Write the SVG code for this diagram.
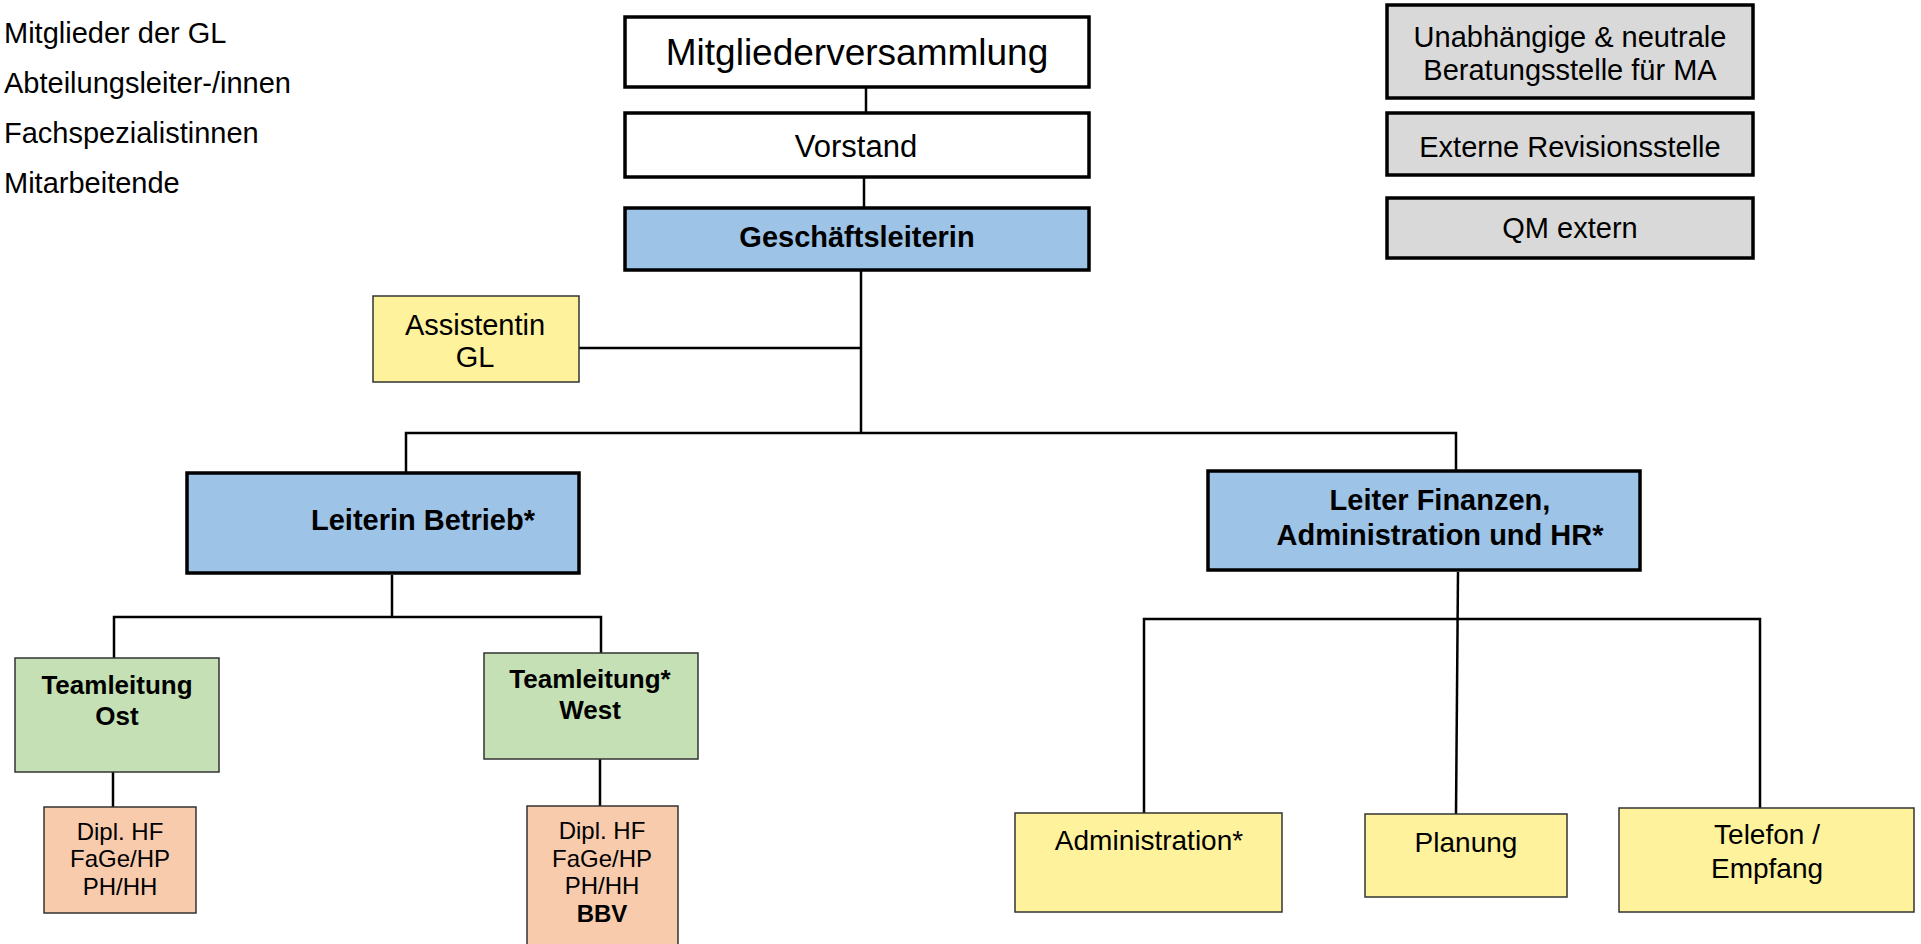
<svg xmlns="http://www.w3.org/2000/svg" width="1921" height="944" viewBox="0 0 1921 944">
<style>
text{font-family:"Liberation Sans",Arial,sans-serif;fill:#000;text-anchor:middle}
.lg{text-anchor:start;font-size:29px}
.thick{stroke:#000;stroke-width:3.5}
.thin{stroke:#333;stroke-width:1.5}
.w{fill:#fff}.b{fill:#9DC3E6}.g{fill:#C5E0B4}.y{fill:#FFF29C}.p{fill:#F8CBAD}.gr{fill:#D9D9D9}
.c{stroke:#000;stroke-width:2.5;fill:none}
.b29{font-size:29px;font-weight:bold}
.r29{font-size:29px}
.r28{font-size:28px}
.b26{font-size:26px;font-weight:bold}
.r24{font-size:24px}
</style>
<g id="legend">
<text class="lg" x="4" y="43">Mitglieder der GL</text>
<text class="lg" x="4" y="93">Abteilungsleiter-/innen</text>
<text class="lg" x="4" y="143">Fachspezialistinnen</text>
<text class="lg" x="4" y="193">Mitarbeitende</text>
</g>
<g id="connectors">
<line class="c" x1="866" y1="87" x2="866" y2="113"/>
<line class="c" x1="864" y1="177" x2="864" y2="208"/>
<line class="c" x1="861" y1="270" x2="861" y2="434"/>
<line class="c" x1="579" y1="348" x2="861" y2="348"/>
<polyline class="c" points="406,473 406,433 1456,433 1456,471"/>
<line class="c" x1="392" y1="575" x2="392" y2="617"/>
<polyline class="c" points="114,658 114,617 601,617 601,653"/>
<line class="c" x1="113" y1="772" x2="113" y2="807"/>
<line class="c" x1="600" y1="759" x2="600" y2="806"/>
<line class="c" x1="1458" y1="572" x2="1456" y2="814"/>
<polyline class="c" points="1144,813 1144,619 1760,619 1760,808"/>
</g>
<g id="mitgliederversammlung">
<rect class="w thick" x="625" y="17" width="464" height="70"/>
<text x="857" y="65" style="font-size:37px">Mitgliederversammlung</text>
</g>
<g id="vorstand">
<rect class="w thick" x="625" y="113" width="464" height="64"/>
<text x="856" y="157" style="font-size:31px">Vorstand</text>
</g>
<g id="geschaeftsleiterin">
<rect class="b thick" x="625" y="208" width="464" height="62"/>
<text class="b29" x="857" y="247">Geschäftsleiterin</text>
</g>
<g id="beratungsstelle">
<rect class="gr thick" x="1387" y="5" width="366" height="93"/>
<text class="r29" x="1570" y="47">Unabhängige &amp; neutrale</text>
<text class="r29" x="1570" y="80">Beratungsstelle für MA</text>
</g>
<g id="revisionsstelle">
<rect class="gr thick" x="1387" y="113" width="366" height="62"/>
<text class="r29" x="1570" y="157">Externe Revisionsstelle</text>
</g>
<g id="qm-extern">
<rect class="gr thick" x="1387" y="198" width="366" height="60"/>
<text class="r29" x="1570" y="238">QM extern</text>
</g>
<g id="assistentin">
<rect class="y thin" x="373" y="296" width="206" height="86"/>
<text class="r29" x="475" y="335">Assistentin</text>
<text class="r29" x="475" y="367">GL</text>
</g>
<g id="leiterin-betrieb">
<rect class="b thick" x="187" y="473" width="392" height="100"/>
<text class="b29" x="423" y="530">Leiterin Betrieb*</text>
</g>
<g id="leiter-finanzen">
<rect class="b thick" x="1208" y="471" width="432" height="99"/>
<text class="b29" x="1440" y="510">Leiter Finanzen,</text>
<text class="b29" x="1440" y="545">Administration und HR*</text>
</g>
<g id="teamleitung-ost">
<rect class="g thin" x="15" y="658" width="204" height="114"/>
<text class="b26" x="117" y="694">Teamleitung</text>
<text class="b26" x="117" y="725">Ost</text>
</g>
<g id="teamleitung-west">
<rect class="g thin" x="484" y="653" width="214" height="106"/>
<text class="b26" x="590" y="688">Teamleitung*</text>
<text class="b26" x="590" y="719">West</text>
</g>
<g id="team-ost">
<rect class="p thin" x="44" y="807" width="152" height="106"/>
<text class="r24" x="120" y="840">Dipl. HF</text>
<text class="r24" x="120" y="867">FaGe/HP</text>
<text class="r24" x="120" y="895">PH/HH</text>
</g>
<g id="team-west">
<rect class="p thin" x="527" y="806" width="151" height="142"/>
<text class="r24" x="602" y="839">Dipl. HF</text>
<text class="r24" x="602" y="867">FaGe/HP</text>
<text class="r24" x="602" y="894">PH/HH</text>
<text class="r24" x="602" y="922" font-weight="bold">BBV</text>
</g>
<g id="administration">
<rect class="y thin" x="1015" y="813" width="267" height="99"/>
<text class="r28" x="1149" y="850">Administration*</text>
</g>
<g id="planung">
<rect class="y thin" x="1365" y="814" width="202" height="83"/>
<text class="r28" x="1466" y="852">Planung</text>
</g>
<g id="telefon">
<rect class="y thin" x="1619" y="808" width="295" height="104"/>
<text class="r28" x="1767" y="844">Telefon /</text>
<text class="r28" x="1767" y="878">Empfang</text>
</g>
</svg>
